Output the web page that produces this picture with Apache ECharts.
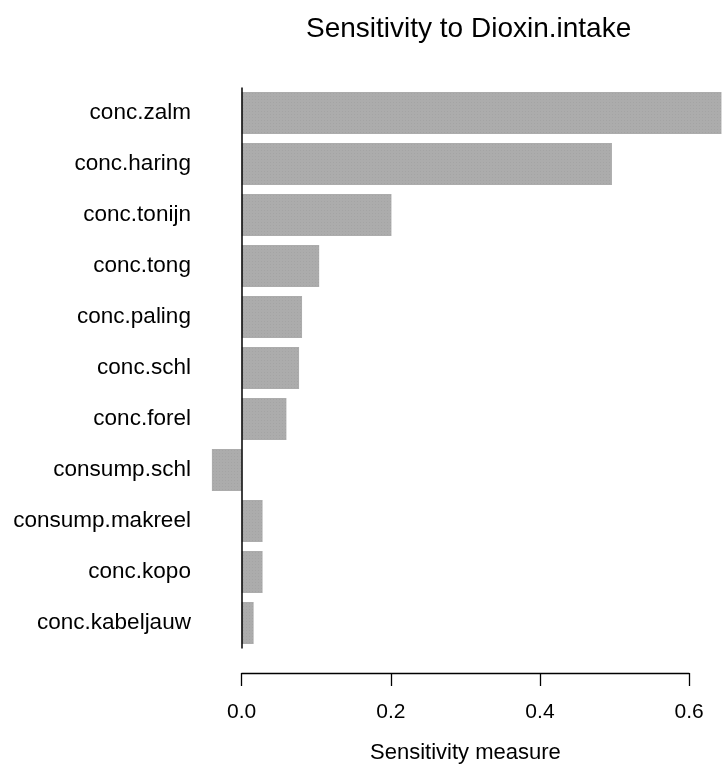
<!DOCTYPE html>
<html>
<head>
<meta charset="utf-8">
<script src="https://cdn.jsdelivr.net/npm/echarts@6/dist/echarts.min.js"></script>
<style>
html,body{margin:0;padding:0;background:#fff;}
#chart{width:728px;height:766px;}
</style>
</head>
<body>
<div id="chart"></div>
<script>
var categories = ['conc.zalm','conc.haring','conc.tonijn','conc.tong','conc.paling','conc.schl','conc.forel','consump.schl','consump.makreel','conc.kopo','conc.kabeljauw'];
var sensitivity = [0.644, 0.497, 0.201, 0.104, 0.081, 0.077, 0.060, -0.041, 0.028, 0.028, 0.016];
var tickValues = [0, 0.2, 0.4, 0.6];

var FONT = '"Liberation Sans", Arial, Helvetica, sans-serif';
var chart = echarts.init(document.getElementById('chart'), null, {renderer: 'canvas'});
chart.setOption({
  animation: false,
  backgroundColor: '#ffffff',
  title: {
    text: 'Sensitivity to Dioxin.intake',
    left: 306, top: 15, padding: 0,
    textStyle: {fontFamily: FONT, fontSize: 28, fontWeight: 'normal', color: '#000'}
  },
  grid: [
    {left: 211.9, right: 5.8, top: 87.5, bottom: 117.5, containLabel: false, outerBoundsMode: 'none'},
    {left: 241.7, right: 38.9, top: 87.5, bottom: 93, containLabel: false, outerBoundsMode: 'none'}
  ],
  xAxis: [
    {type: 'value', gridIndex: 0, min: -0.04, max: 0.645,
     axisLine: {show: false}, axisTick: {show: false}, axisLabel: {show: false}, splitLine: {show: false}},
    {type: 'value', gridIndex: 1, min: 0, max: 0.6, interval: 0.2, position: 'bottom',
     axisLine: {show: true, onZero: false, lineStyle: {color: '#000', width: 1.3}},
     axisTick: {show: true, length: 13, lineStyle: {color: '#000', width: 1.3}},
     axisLabel: {show: true, margin: 29, fontFamily: FONT, fontSize: 21, color: '#000',
       formatter: function (v) { return v.toFixed(1); }},
     splitLine: {show: false},
     name: 'Sensitivity measure', nameLocation: 'middle', nameGap: 69,
     nameTextStyle: {fontFamily: FONT, fontSize: 22, color: '#000'}}
  ],
  yAxis: [
    {type: 'category', gridIndex: 0, data: categories, inverse: true,
     axisLine: {show: false}, axisTick: {show: false}, splitLine: {show: false},
     axisLabel: {margin: 21, fontFamily: FONT, fontSize: 22.5, color: '#000'}},
    {type: 'value', gridIndex: 1, show: false}
  ],
  series: [{
    type: 'bar',
    xAxisIndex: 0, yAxisIndex: 0,
    data: sensitivity,
    barWidth: 42,
    itemStyle: {
      color: '#acacac',
      decal: {symbol: 'rect', symbolSize: 0.5, dashArrayX: [1, 2], dashArrayY: [1, 2], color: 'rgba(90,90,90,0.35)', rotation: 0}
    },
    markLine: {
      silent: true, symbol: 'none', label: {show: false},
      lineStyle: {color: '#000', type: 'solid', width: 1.5},
      data: [{xAxis: 0}]
    }
  }]
});
</script>
</body>
</html>
